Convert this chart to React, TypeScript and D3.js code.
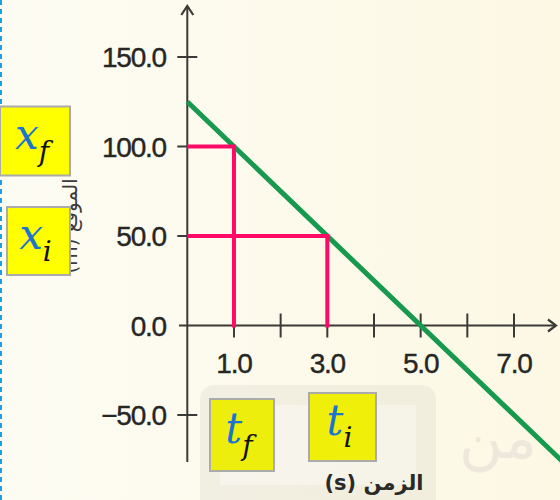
import React from 'react';
import * as d3 from 'd3';

// position vs time
const linePoints = [
  { t: 0, x: 125 },
  { t: 5, x: 0 },
  { t: 8.2, x: -80 },
];
const yTicks = [-50, 0, 50, 100, 150];
const xTicks = [1, 2, 3, 4, 5, 6, 7];
const xTickLabels = [1, 3, 5, 7];
// guide lines: (t, x) pairs marked on the graph
const guides = [
  { t: 1, x: 100 },
  { t: 3, x: 50 },
];
const boxes = [
  { id: 'xf', main: 'x', sub: 'f', cx: 35, cy: 141, w: 70, h: 69, fill: '#ffff00' },
  { id: 'xi', main: 'x', sub: 'i', cx: 38.5, cy: 241, w: 63, h: 68, fill: '#ffff00' },
  { id: 'tf', main: 't', sub: 'f', cx: 242, cy: 435, w: 64, h: 72, fill: '#eeee0c' },
  { id: 'ti', main: 't', sub: 'i', cx: 342.5, cy: 427, w: 67, h: 68, fill: '#efef0a' },
];

const W = 560;
const H = 500;

export default function App() {
  const x = d3.scaleLinear().domain([0, 7]).range([187.3, 514]);
  const y = d3.scaleLinear().domain([-50, 150]).range([415, 57]);
  const axisColor = '#3a3a36';
  const pink = '#ff0a66';

  const line = d3
    .line<{ t: number; x: number }>()
    .x(d => x(d.t))
    .y(d => y(d.x));

  const tickFont = {
    fontFamily: '"Liberation Sans", Arial, sans-serif',
    fontSize: 28,
    letterSpacing: -1.2,
    fill: '#262624',
    stroke: '#262624',
    strokeWidth: 0.4,
  } as const;

  return (
    <svg width={W} height={H} style={{ position: 'absolute', left: 0, top: 0 }}>
      <defs>
        <linearGradient id="bg" x1="0" y1="0" x2="1" y2="0">
          <stop offset="0" stopColor="#fdfcf3" />
          <stop offset="1" stopColor="#fcf8e4" />
        </linearGradient>
        <clipPath id="plot">
          <rect x={0} y={0} width={W} height={H} />
        </clipPath>
      </defs>
      <rect width={W} height={H} fill="url(#bg)" />

      {/* faint watermark */}
      <rect x={200} y={385} width={236} height={130} rx={14} fill="#000" opacity={0.045} />
      <rect x={220} y={405} width={196} height={80} fill="#fff" opacity={0.35} />
      <text x={498} y={458} textAnchor="middle" fontFamily="DejaVu Sans" fontSize={60} fill="#ebe4da" opacity={0.8}>من</text>

      {/* left dashed border */}
      <line x1={1} y1={0} x2={1} y2={H} stroke="#1aa0e8" strokeWidth={2} strokeDasharray="5 4" />

      {/* y axis */}
      <line x1={x(0)} y1={6} x2={x(0)} y2={462} stroke={axisColor} strokeWidth={2} />
      <path d={`M${x(0) - 6},${15} L${x(0)},${6} L${x(0) + 6},${15}`} fill="none" stroke={axisColor} strokeWidth={2.2} />
      {yTicks.filter(v => v !== 0).map(v => (
        <line key={'yt' + v} x1={x(0) - 10} x2={x(0) + 10} y1={y(v)} y2={y(v)} stroke={axisColor} strokeWidth={2} />
      ))}
      {yTicks.map(v => (
        <text key={'yl' + v} x={166} y={y(v)} dy="0.36em" textAnchor="end" style={tickFont}>
          {v < 0 ? '\u2212' + d3.format('.1f')(-v) : d3.format('.1f')(v)}
        </text>
      ))}

      {/* x axis */}
      <line x1={179} y1={y(0)} x2={556} y2={y(0)} stroke={axisColor} strokeWidth={2} />
      <path d={`M${548},${y(0) - 6} L${556},${y(0)} L${548},${y(0) + 6}`} fill="none" stroke={axisColor} strokeWidth={2.2} />
      {xTicks.map(v => (
        <line key={'xt' + v} x1={x(v)} x2={x(v)} y1={y(0) - 12} y2={y(0) + 12} stroke={axisColor} strokeWidth={2} />
      ))}
      {xTickLabels.map(v => (
        <text key={'xl' + v} x={x(v)} y={363} dy="0.36em" textAnchor="middle" style={tickFont}>
          {d3.format('.1f')(v)}
        </text>
      ))}

      {/* axis titles */}
      <text x={374} y={490} textAnchor="middle" fontFamily="DejaVu Sans" fontSize={21} fontWeight="bold" fill="#2a2a28">
        (s) الزمن
      </text>
      <text transform={`translate(70,226) rotate(-90)`} textAnchor="middle" dy="0.35em" fontFamily="DejaVu Sans" fontSize={20} fill="#3a3a38">
        (m) الموقع
      </text>

      {/* data line */}
      <path d={line(linePoints) || ''} fill="none" stroke="#17994e" strokeWidth={5} clipPath="url(#plot)" />

      {/* guide lines */}
      {guides.map(g => (
        <path
          key={'g' + g.t}
          d={`M${x(0)},${y(g.x)} H${x(g.t)} V${y(0) + 2}`}
          fill="none"
          stroke={pink}
          strokeWidth={4}
        />
      ))}

      {/* label boxes */}
      {boxes.map(b => (
        <g key={b.id}>
          <rect x={b.cx - b.w / 2} y={b.cy - b.h / 2} width={b.w} height={b.h} fill={b.fill} stroke="#ababab" strokeWidth={2} />
          <text x={b.cx - 3} y={b.cy + 8} textAnchor="middle" fontFamily="DejaVu Serif, serif" fontStyle="italic" fontSize={42}>
            <tspan fill="#1b74cf">{b.main}</tspan>
            <tspan fill="#111" fontSize={28} dy={12}>{b.sub}</tspan>
          </text>
        </g>
      ))}
    </svg>
  );
}
